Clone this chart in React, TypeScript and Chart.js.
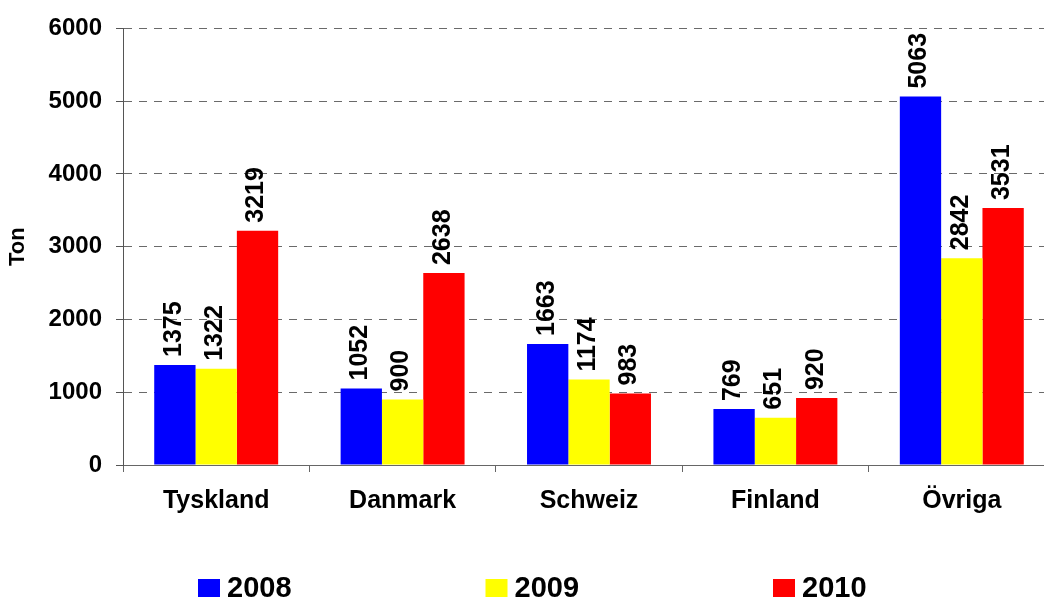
import React, { useEffect, useRef } from 'react';
import { Chart, registerables } from 'chart.js';

Chart.register(...registerables);

const categories = ['Tyskland', 'Danmark', 'Schweiz', 'Finland', 'Övriga'];
const seriesNames = ['2008', '2009', '2010'];
const values2008 = [1375, 1052, 1663, 769, 5063];
const values2009 = [1322, 900, 1174, 651, 2842];
const values2010 = [3219, 2638, 983, 920, 3531];
const seriesColors = ['#0000FF', '#FFFF00', '#FF0000'];
const yMin = 0;
const yMax = 6000;
const yStep = 1000;
const yTitle = 'Ton';

const FONT = '"Liberation Sans", Arial, Helvetica, sans-serif';

const valueLabels = {
  id: 'valueLabels',
  afterDatasetsDraw(chart: any) {
    const ctx = chart.ctx;
    ctx.save();
    ctx.font = `bold 25px ${FONT}`;
    ctx.fillStyle = '#000';
    ctx.textAlign = 'left';
    ctx.textBaseline = 'middle';
    chart.data.datasets.forEach((ds: any, i: number) => {
      chart.getDatasetMeta(i).data.forEach((bar: any, j: number) => {
        ctx.save();
        ctx.translate(bar.x - 1, bar.y - 8);
        ctx.rotate(-Math.PI / 2);
        ctx.fillText(String(ds.data[j]), 0, 0);
        ctx.restore();
      });
    });
    ctx.restore();
  },
};

const bottomLegend = {
  id: 'bottomLegend',
  afterDraw(chart: any) {
    const ctx = chart.ctx;
    const startX = 198;
    const step = 287.5;
    const boxTop = 579;
    const boxW = 22;
    const boxH = 18;
    ctx.save();
    ctx.font = `bold 29px ${FONT}`;
    ctx.textAlign = 'left';
    ctx.textBaseline = 'alphabetic';
    chart.data.datasets.forEach((ds: any, i: number) => {
      const x = startX + i * step;
      ctx.fillStyle = ds.backgroundColor;
      ctx.fillRect(x, boxTop, boxW, boxH);
      ctx.fillStyle = '#000';
      ctx.fillText(ds.label, x + boxW + 7, 597);
    });
    ctx.restore();
  },
};

export default function App() {
  const canvasRef = useRef<HTMLCanvasElement | null>(null);

  useEffect(() => {
    if (!canvasRef.current) return;
    const seriesValues = [values2008, values2009, values2010];
    const chart = new Chart(canvasRef.current, {
      type: 'bar',
      data: {
        labels: categories,
        datasets: seriesNames.map((name, i) => ({
          label: name,
          data: seriesValues[i],
          backgroundColor: seriesColors[i],
          borderWidth: 0,
          categoryPercentage: 0.665,
          barPercentage: 1.0,
        })),
      },
      options: {
        responsive: false,
        animation: false,
        devicePixelRatio: 1,
        layout: { padding: { top: 27, right: 20, bottom: 76, left: 0 } },
        plugins: {
          legend: { display: false },
          tooltip: { enabled: false },
        },
        scales: {
          x: {
            afterFit(scale: any) {
              scale.height = 60;
            },
            grid: {
              display: true,
              offset: true,
              drawOnChartArea: false,
              drawTicks: true,
              tickLength: 7,
              color: '#666',
              tickColor: '#666',
            },
            border: { display: true, color: '#666', width: 1 },
            ticks: {
              color: '#000',
              font: { family: FONT, size: 25, weight: 'bold' },
              padding: 14,
              maxRotation: 0,
              autoSkip: false,
            },
          },
          y: {
            min: yMin,
            max: yMax,
            afterFit(scale: any) {
              scale.width = 123;
            },
            grid: {
              color: '#6a6a6a',
              lineWidth: 1,
              drawTicks: true,
              tickLength: 7,
              tickColor: '#555',
            },
            border: { display: true, color: '#555', width: 1, dash: [8, 7] },
            ticks: {
              stepSize: yStep,
              color: '#000',
              font: { family: FONT, size: 24, weight: 'bold' },
              padding: 14,
              callback: (v: any) => String(v),
            },
            title: {
              display: true,
              text: yTitle,
              color: '#000',
              font: { family: FONT, size: 22, weight: 'bold' },
              padding: { top: 5, bottom: 0 },
            },
          },
        },
      },
      plugins: [valueLabels, bottomLegend],
    } as any);
    return () => chart.destroy();
  }, []);

  return (
    <div
      style={{
        position: 'fixed',
        left: 0,
        top: 0,
        width: 1044,
        height: 601,
        overflow: 'hidden',
        background: '#fff',
      }}
    >
      <canvas ref={canvasRef} width={1075} height={601} style={{ display: 'block', width: 1075, height: 601 }} />
    </div>
  );
}
